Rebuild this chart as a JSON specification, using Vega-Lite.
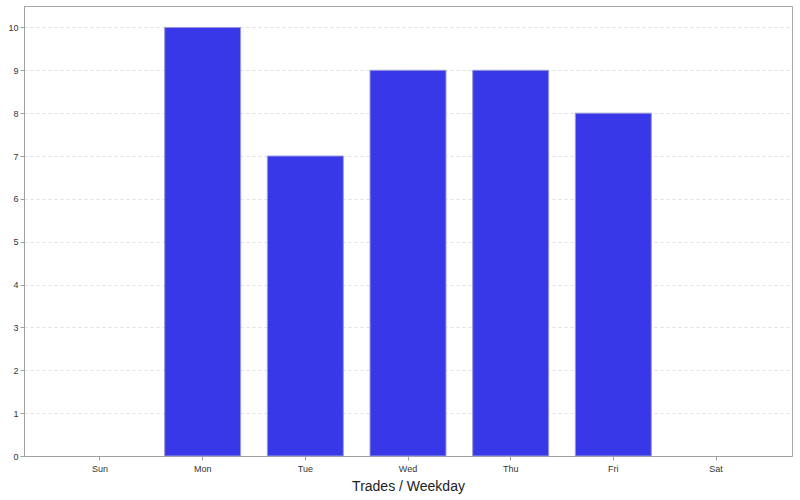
{
  "$schema": "https://vega.github.io/schema/vega-lite/v6.json",
  "autosize": {"type": "none"},
  "width": 768,
  "height": 450,
  "padding": {"left": 24, "top": 6, "right": 8, "bottom": 44},
  "background": "white",
  "config": {"view": {"stroke": "#a8a8a8", "strokeWidth": 1}, "font": "Liberation Sans"},
  "data": {"values": [
    {"day": "Sun", "trades": 0},
    {"day": "Mon", "trades": 10},
    {"day": "Tue", "trades": 7},
    {"day": "Wed", "trades": 9},
    {"day": "Thu", "trades": 9},
    {"day": "Fri", "trades": 8},
    {"day": "Sat", "trades": 0}
  ]},
  "mark": {"type": "bar", "color": "#3838e8", "stroke": "#9a9ad8", "strokeWidth": 1},
  "encoding": {
    "x": {
      "field": "day", "type": "nominal", "sort": null,
      "scale": {"paddingInner": 0.26, "paddingOuter": 0.37},
      "axis": {
        "title": "Trades / Weekday", "titleFontSize": 14, "titleFontWeight": "normal", "titleColor": "#222", "titlePadding": 6,
        "labelAngle": 0, "labelFontSize": 9, "labelColor": "#333", "labelPadding": 4,
        "domainColor": "#a0a0a0", "tickColor": "#a0a0a0", "tickSize": 4, "grid": false
      }
    },
    "y": {
      "field": "trades", "type": "quantitative",
      "scale": {"domain": [0, 10.5], "nice": false},
      "axis": {
        "title": null, "values": [0,1,2,3,4,5,6,7,8,9,10],
        "labelFontSize": 9, "labelColor": "#333", "labelPadding": 2,
        "domainColor": "#a0a0a0", "tickColor": "#a0a0a0", "tickSize": 4,
        "grid": true, "gridColor": "#e0e0e0", "gridDash": [3, 3], "gridWidth": 1
      }
    },
    "strokeOpacity": {"condition": {"test": "datum.trades == 0", "value": 0}, "value": 1}
  }
}
